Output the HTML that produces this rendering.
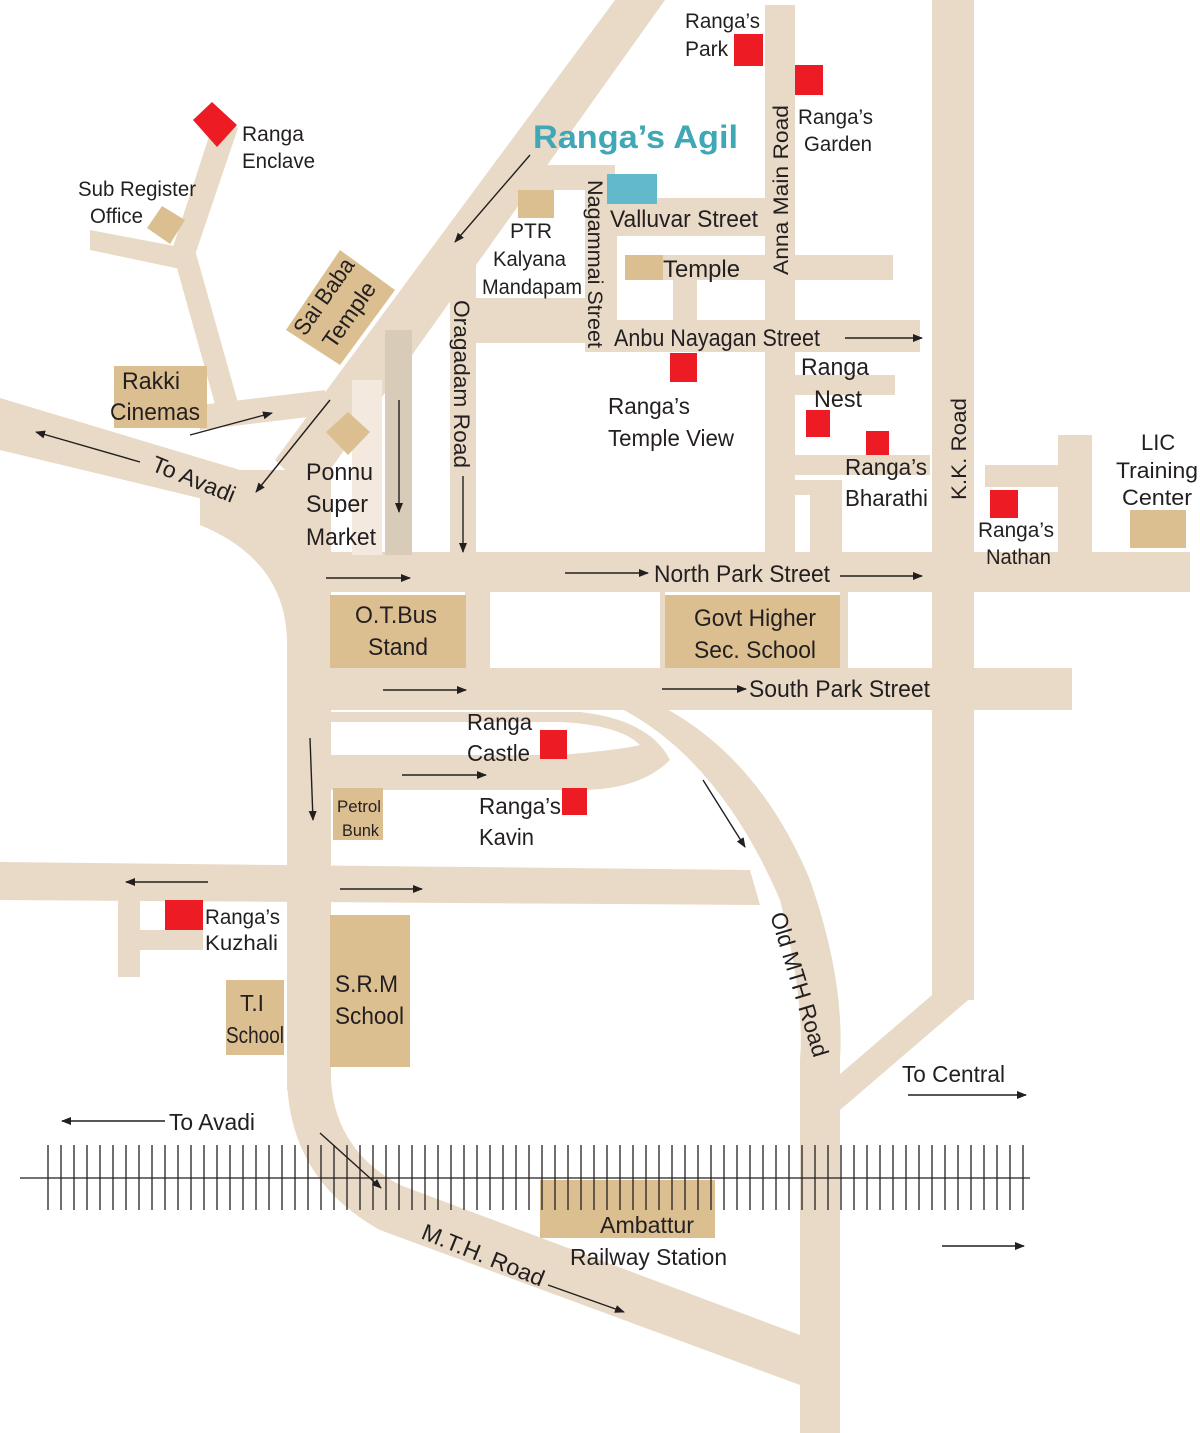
<!DOCTYPE html>
<html><head><meta charset="utf-8"><style>
html,body{margin:0;padding:0;background:#fff}
svg{display:block}
text{font-family:"Liberation Sans",sans-serif;fill:#231f20}
</style></head><body>
<svg width="1200" height="1433" viewBox="0 0 1200 1433" xmlns="http://www.w3.org/2000/svg">
<defs><marker id="a" markerWidth="10" markerHeight="8" refX="9" refY="4" orient="auto" markerUnits="userSpaceOnUse"><path d="M0,0 L10,4 L0,8 z" fill="#231f20"/></marker></defs>
<g fill="#e8dac6" stroke="none">
<polygon points="615,0 665,0 330,470 285,470 275,460"/>
<polygon points="0,398 240,470 290,470 290,520 0,450"/>
<path d="M200,470 L331,470 L331,640 L287,640 Q285,560 200,525 Z"/>
<rect x="287" y="470" width="44" height="620"/>
<path d="M287,1080 Q290,1180 380,1230 L800,1385 L800,1335 L400,1185 Q335,1150 331,1080 Z"/>
<polygon points="215,118 238,128 195,255 172,250"/>
<polygon points="172,250 195,250 240,410 218,415"/>
<polygon points="90,230 185,248 185,270 90,250"/>
<polygon points="200,405 325,390 325,415 200,430"/>
<rect x="287" y="552" width="903" height="40"/>
<rect x="287" y="668" width="785" height="42"/>
<rect x="465" y="590" width="25" height="80"/>
<rect x="660" y="590" width="5" height="80"/>
<rect x="840" y="590" width="8" height="80"/>
<path d="M620,708 Q720,760 780,900 Q805,1000 800,1060 L800,1433 L840,1433 L840,1060 Q845,980 810,880 Q760,760 665,708 Z"/>
<rect x="932" y="0" width="42" height="1000"/>
<polygon points="932,995 974,995 840,1110 810,1100"/>
<polygon points="0,862 750,870 760,905 0,900"/>
<rect x="118" y="885" width="22" height="92"/>
<rect x="118" y="930" width="85" height="20"/>
<path d="M330,712 L580,712 Q650,720 670,760 Q640,790 580,790 L330,790 L330,755 L560,755 Q620,750 640,745 Q620,725 560,722 L330,722 Z"/>
<rect x="765" y="5" width="30" height="550"/>
<rect x="585" y="175" width="32" height="175"/>
<rect x="450" y="250" width="26" height="305"/>
<rect x="520" y="165" width="95" height="25"/>
<rect x="615" y="198" width="150" height="38"/>
<rect x="625" y="255" width="268" height="25"/>
<rect x="673" y="280" width="24" height="45"/>
<rect x="475" y="298" width="115" height="45"/>
<rect x="585" y="320" width="335" height="32"/>
<rect x="795" y="375" width="100" height="20"/>
<rect x="795" y="455" width="135" height="20"/>
<rect x="795" y="480" width="45" height="15"/>
<rect x="810" y="480" width="32" height="75"/>
<rect x="985" y="465" width="75" height="22"/>
<rect x="1058" y="435" width="34" height="120"/>
<rect x="352" y="380" width="30" height="175" fill="#f3e9de"/>
<rect x="385" y="330" width="27" height="225" fill="#d8cbb7"/>
</g>
<g fill="#dcbf91">
<rect x="330" y="595" width="136" height="73"/>
<rect x="665" y="595" width="175" height="73"/>
<rect x="114" y="366" width="93" height="62"/>
<polygon points="286,330 340,250 395,290 340,365"/>
<polygon points="326,432 348,412 370,432 348,455"/>
<polygon points="147,228 162,206 185,220 170,244"/>
<rect x="518" y="190" width="36" height="28"/>
<rect x="625" y="255" width="38" height="25"/>
<rect x="1130" y="510" width="56" height="38"/>
<rect x="333" y="788" width="50" height="52"/>
<rect x="330" y="915" width="80" height="152"/>
<rect x="226" y="980" width="58" height="75"/>
<rect x="540" y="1180" width="175" height="58"/>
</g>
<g fill="#ed1c24">
<rect x="734" y="34" width="29" height="32"/><rect x="795" y="65" width="28" height="30"/>
<polygon points="193,120 212,102 237,125 217,147"/>
<rect x="670" y="353" width="27" height="29"/><rect x="806" y="410" width="24" height="27"/>
<rect x="866" y="431" width="23" height="24"/><rect x="990" y="490" width="28" height="28"/>
<rect x="540" y="730" width="27" height="29"/><rect x="562" y="788" width="25" height="27"/>
<rect x="165" y="900" width="38" height="30"/>
</g>
<rect x="607" y="174" width="50" height="30" fill="#63b9cc"/>
<g stroke="#231f20" stroke-width="1.3">
<line x1="20" y1="1178" x2="1030" y2="1178"/>
</g>
<g stroke="#231f20" stroke-width="1.4" fill="none" marker-end="url(#a)">
<line x1="530" y1="155" x2="455" y2="242"/>
<line x1="140" y1="462" x2="36" y2="432"/>
<line x1="190" y1="435" x2="272" y2="413"/>
<line x1="330" y1="400" x2="256" y2="492"/>
<line x1="399" y1="400" x2="399" y2="512"/>
<line x1="463" y1="476" x2="463" y2="552"/>
<line x1="326" y1="578" x2="410" y2="578"/>
<line x1="565" y1="573" x2="648" y2="573"/>
<line x1="840" y1="576" x2="922" y2="576"/>
<line x1="845" y1="338" x2="922" y2="338"/>
<line x1="383" y1="690" x2="466" y2="690"/>
<line x1="662" y1="689" x2="746" y2="689"/>
<line x1="402" y1="775" x2="486" y2="775"/>
<line x1="310" y1="738" x2="313" y2="820"/>
<line x1="703" y1="780" x2="745" y2="847"/>
<line x1="208" y1="882" x2="126" y2="882"/>
<line x1="340" y1="889" x2="422" y2="889"/>
<line x1="165" y1="1121" x2="62" y2="1121"/>
<line x1="908" y1="1095" x2="1026" y2="1095"/>
<line x1="942" y1="1246" x2="1024" y2="1246"/>
<line x1="320" y1="1133" x2="381" y2="1188"/>
<line x1="548" y1="1285" x2="624" y2="1312"/>
</g>
<g font-size="22" lengthAdjust="spacingAndGlyphs">
<text x="685" y="28" font-size="21" textLength="75" lengthAdjust="spacingAndGlyphs">Ranga’s</text><text x="685" y="56" font-size="21">Park</text>
<text x="798" y="124" font-size="21" textLength="75" lengthAdjust="spacingAndGlyphs">Ranga’s</text><text x="804" y="151" font-size="21" textLength="68" lengthAdjust="spacingAndGlyphs">Garden</text>
<text x="242" y="141" font-size="21">Ranga</text><text x="242" y="168" font-size="21" textLength="73" lengthAdjust="spacingAndGlyphs">Enclave</text>
<text x="78" y="196" font-size="21" textLength="118" lengthAdjust="spacingAndGlyphs">Sub Register</text><text x="90" y="223" font-size="21" textLength="53" lengthAdjust="spacingAndGlyphs">Office</text>
<text x="533" y="148" font-size="32" font-weight="bold" style="fill:#3fa7b5" textLength="205" lengthAdjust="spacingAndGlyphs">Ranga’s Agil</text>
<text x="510" y="238" font-size="21">PTR</text><text x="493" y="266" font-size="21" textLength="73" lengthAdjust="spacingAndGlyphs">Kalyana</text><text x="482" y="294" font-size="21" textLength="100" lengthAdjust="spacingAndGlyphs">Mandapam</text>
<text x="610" y="227" font-size="24" textLength="148" lengthAdjust="spacingAndGlyphs">Valluvar Street</text>
<text x="663" y="277" font-size="24" textLength="77" lengthAdjust="spacingAndGlyphs">Temple</text>
<text x="614" y="346" font-size="24" textLength="206" lengthAdjust="spacingAndGlyphs">Anbu Nayagan Street</text>
<text transform="translate(588,180) rotate(90)" font-size="21" textLength="168" lengthAdjust="spacingAndGlyphs">Nagammai Street</text>
<text transform="translate(454,300) rotate(90)" font-size="22" textLength="168" lengthAdjust="spacingAndGlyphs">Oragadam Road</text>
<text transform="translate(788,275) rotate(-90)" font-size="21" textLength="170" lengthAdjust="spacingAndGlyphs">Anna Main Road</text>
<text transform="translate(966,500) rotate(-90)" font-size="21" textLength="102" lengthAdjust="spacingAndGlyphs">K.K. Road</text>
<text transform="translate(305,337) rotate(-55)" font-size="23" textLength="88" lengthAdjust="spacingAndGlyphs">Sai Baba</text>
<text transform="translate(334,350) rotate(-55)" font-size="23" textLength="75" lengthAdjust="spacingAndGlyphs">Temple</text>
<text x="122" y="389" font-size="24" textLength="58" lengthAdjust="spacingAndGlyphs">Rakki</text><text x="110" y="420" font-size="24" textLength="90" lengthAdjust="spacingAndGlyphs">Cinemas</text>
<text transform="translate(150,470) rotate(22)" font-size="23" textLength="88" lengthAdjust="spacingAndGlyphs">To Avadi</text>
<text x="306" y="480" font-size="24" textLength="67" lengthAdjust="spacingAndGlyphs">Ponnu</text><text x="306" y="512" font-size="24" textLength="62" lengthAdjust="spacingAndGlyphs">Super</text><text x="306" y="545" font-size="24" textLength="70" lengthAdjust="spacingAndGlyphs">Market</text>
<text x="608" y="414" font-size="23" textLength="82" lengthAdjust="spacingAndGlyphs">Ranga’s</text><text x="608" y="446" font-size="23" textLength="126" lengthAdjust="spacingAndGlyphs">Temple View</text>
<text x="801" y="375" font-size="24" textLength="68" lengthAdjust="spacingAndGlyphs">Ranga</text><text x="814" y="407" font-size="24" textLength="48" lengthAdjust="spacingAndGlyphs">Nest</text>
<text x="845" y="475" font-size="23" textLength="82" lengthAdjust="spacingAndGlyphs">Ranga’s</text><text x="845" y="506" font-size="23" textLength="83" lengthAdjust="spacingAndGlyphs">Bharathi</text>
<text x="978" y="537" font-size="21" textLength="76" lengthAdjust="spacingAndGlyphs">Ranga’s</text><text x="986" y="564" font-size="21" textLength="65" lengthAdjust="spacingAndGlyphs">Nathan</text>
<text x="1141" y="450" font-size="22">LIC</text><text x="1116" y="478" font-size="22" textLength="82" lengthAdjust="spacingAndGlyphs">Training</text><text x="1122" y="505" font-size="22" textLength="70" lengthAdjust="spacingAndGlyphs">Center</text>
<text x="654" y="582" font-size="24" textLength="176" lengthAdjust="spacingAndGlyphs">North Park Street</text>
<text x="355" y="623" font-size="24" textLength="82" lengthAdjust="spacingAndGlyphs">O.T.Bus</text><text x="368" y="655" font-size="24" textLength="60" lengthAdjust="spacingAndGlyphs">Stand</text>
<text x="694" y="626" font-size="24" textLength="122" lengthAdjust="spacingAndGlyphs">Govt Higher</text><text x="694" y="658" font-size="24" textLength="122" lengthAdjust="spacingAndGlyphs">Sec. School</text>
<text x="749" y="697" font-size="24" textLength="181" lengthAdjust="spacingAndGlyphs">South Park Street</text>
<text x="467" y="730" font-size="23" textLength="65" lengthAdjust="spacingAndGlyphs">Ranga</text><text x="467" y="761" font-size="23" textLength="63" lengthAdjust="spacingAndGlyphs">Castle</text>
<text x="479" y="814" font-size="23" textLength="82" lengthAdjust="spacingAndGlyphs">Ranga’s</text><text x="479" y="845" font-size="23" textLength="55" lengthAdjust="spacingAndGlyphs">Kavin</text>
<text x="337" y="812" font-size="17" textLength="44" lengthAdjust="spacingAndGlyphs">Petrol</text><text x="342" y="836" font-size="17" textLength="37" lengthAdjust="spacingAndGlyphs">Bunk</text>
<text x="205" y="924" font-size="21" textLength="75" lengthAdjust="spacingAndGlyphs">Ranga’s</text><text x="205" y="950" font-size="21" textLength="73" lengthAdjust="spacingAndGlyphs">Kuzhali</text>
<text x="335" y="992" font-size="24" textLength="63" lengthAdjust="spacingAndGlyphs">S.R.M</text><text x="335" y="1024" font-size="24" textLength="69" lengthAdjust="spacingAndGlyphs">School</text>
<text x="240" y="1011" font-size="23" textLength="24" lengthAdjust="spacingAndGlyphs">T.I</text><text x="226" y="1043" font-size="23" textLength="58" lengthAdjust="spacingAndGlyphs">School</text>
<text transform="translate(770,915) rotate(73)" font-size="23" textLength="150" lengthAdjust="spacingAndGlyphs">Old MTH Road</text>
<text x="902" y="1082" font-size="23" textLength="103" lengthAdjust="spacingAndGlyphs">To Central</text>
<text x="169" y="1130" font-size="23" textLength="86" lengthAdjust="spacingAndGlyphs">To Avadi</text>
<text x="600" y="1233" font-size="23" textLength="94" lengthAdjust="spacingAndGlyphs">Ambattur</text><text x="570" y="1265" font-size="23" textLength="157" lengthAdjust="spacingAndGlyphs">Railway Station</text>
<text transform="translate(420,1238) rotate(22)" font-size="23" textLength="130" lengthAdjust="spacingAndGlyphs">M.T.H. Road</text>
</g>
<g stroke="#231f20" stroke-width="1.3">
<line x1="48" y1="1145" x2="48" y2="1210"/><line x1="61" y1="1145" x2="61" y2="1210"/><line x1="74" y1="1145" x2="74" y2="1210"/><line x1="87" y1="1145" x2="87" y2="1210"/><line x1="100" y1="1145" x2="100" y2="1210"/><line x1="113" y1="1145" x2="113" y2="1210"/><line x1="126" y1="1145" x2="126" y2="1210"/><line x1="139" y1="1145" x2="139" y2="1210"/><line x1="152" y1="1145" x2="152" y2="1210"/><line x1="165" y1="1145" x2="165" y2="1210"/><line x1="178" y1="1145" x2="178" y2="1210"/><line x1="191" y1="1145" x2="191" y2="1210"/><line x1="204" y1="1145" x2="204" y2="1210"/><line x1="217" y1="1145" x2="217" y2="1210"/><line x1="230" y1="1145" x2="230" y2="1210"/><line x1="243" y1="1145" x2="243" y2="1210"/><line x1="256" y1="1145" x2="256" y2="1210"/><line x1="269" y1="1145" x2="269" y2="1210"/><line x1="282" y1="1145" x2="282" y2="1210"/><line x1="295" y1="1145" x2="295" y2="1210"/><line x1="308" y1="1145" x2="308" y2="1210"/><line x1="321" y1="1145" x2="321" y2="1210"/><line x1="334" y1="1145" x2="334" y2="1210"/><line x1="347" y1="1145" x2="347" y2="1210"/><line x1="360" y1="1145" x2="360" y2="1210"/><line x1="373" y1="1145" x2="373" y2="1210"/><line x1="386" y1="1145" x2="386" y2="1210"/><line x1="399" y1="1145" x2="399" y2="1210"/><line x1="412" y1="1145" x2="412" y2="1210"/><line x1="425" y1="1145" x2="425" y2="1210"/><line x1="438" y1="1145" x2="438" y2="1210"/><line x1="451" y1="1145" x2="451" y2="1210"/><line x1="464" y1="1145" x2="464" y2="1210"/><line x1="477" y1="1145" x2="477" y2="1210"/><line x1="490" y1="1145" x2="490" y2="1210"/><line x1="503" y1="1145" x2="503" y2="1210"/><line x1="516" y1="1145" x2="516" y2="1210"/><line x1="529" y1="1145" x2="529" y2="1210"/><line x1="542" y1="1145" x2="542" y2="1210"/><line x1="555" y1="1145" x2="555" y2="1210"/><line x1="568" y1="1145" x2="568" y2="1210"/><line x1="581" y1="1145" x2="581" y2="1210"/><line x1="594" y1="1145" x2="594" y2="1210"/><line x1="607" y1="1145" x2="607" y2="1210"/><line x1="620" y1="1145" x2="620" y2="1210"/><line x1="633" y1="1145" x2="633" y2="1210"/><line x1="646" y1="1145" x2="646" y2="1210"/><line x1="659" y1="1145" x2="659" y2="1210"/><line x1="672" y1="1145" x2="672" y2="1210"/><line x1="685" y1="1145" x2="685" y2="1210"/><line x1="698" y1="1145" x2="698" y2="1210"/><line x1="711" y1="1145" x2="711" y2="1210"/><line x1="724" y1="1145" x2="724" y2="1210"/><line x1="737" y1="1145" x2="737" y2="1210"/><line x1="750" y1="1145" x2="750" y2="1210"/><line x1="763" y1="1145" x2="763" y2="1210"/><line x1="776" y1="1145" x2="776" y2="1210"/><line x1="789" y1="1145" x2="789" y2="1210"/><line x1="802" y1="1145" x2="802" y2="1210"/><line x1="815" y1="1145" x2="815" y2="1210"/><line x1="828" y1="1145" x2="828" y2="1210"/><line x1="841" y1="1145" x2="841" y2="1210"/><line x1="854" y1="1145" x2="854" y2="1210"/><line x1="867" y1="1145" x2="867" y2="1210"/><line x1="880" y1="1145" x2="880" y2="1210"/><line x1="893" y1="1145" x2="893" y2="1210"/><line x1="906" y1="1145" x2="906" y2="1210"/><line x1="919" y1="1145" x2="919" y2="1210"/><line x1="932" y1="1145" x2="932" y2="1210"/><line x1="945" y1="1145" x2="945" y2="1210"/><line x1="958" y1="1145" x2="958" y2="1210"/><line x1="971" y1="1145" x2="971" y2="1210"/><line x1="984" y1="1145" x2="984" y2="1210"/><line x1="997" y1="1145" x2="997" y2="1210"/><line x1="1010" y1="1145" x2="1010" y2="1210"/><line x1="1023" y1="1145" x2="1023" y2="1210"/>
</g>
</svg>
</body></html>
